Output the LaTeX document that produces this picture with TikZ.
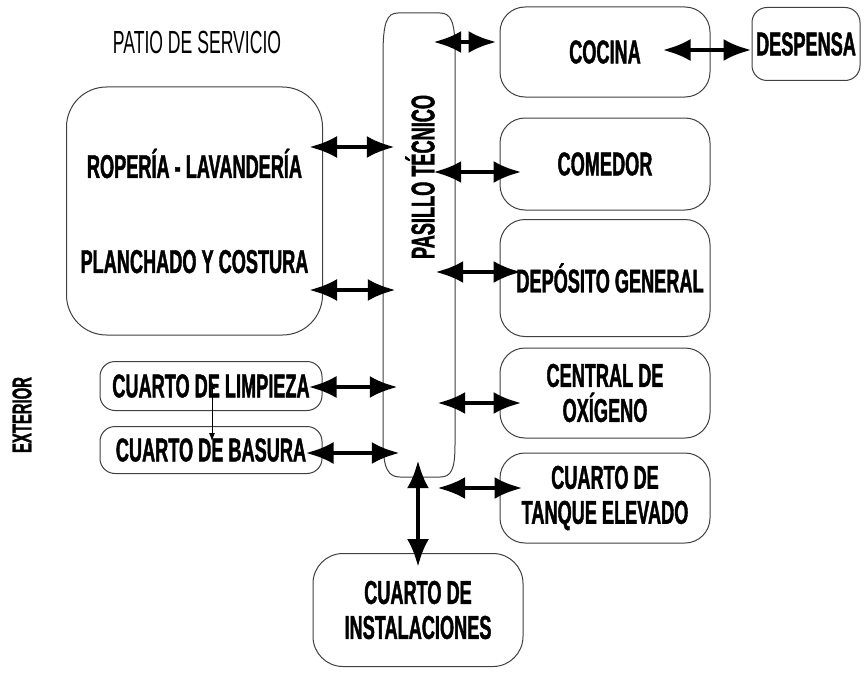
\documentclass[tikz,border=0pt]{standalone}
\usepackage{fontspec}
\setmainfont{Liberation Sans}
\newfontfamily\cond[FakeStretch=0.55, BoldFeatures={FakeBold=1.2}]{Liberation Sans}
\usetikzlibrary{arrows.meta,calc}
\tikzset{
  box/.style={draw=black!75, line width=1pt, rounded corners=#1, inner sep=0pt, align=center,
    font=\cond\bfseries\fontsize{33}{35}\selectfont},
  box/.default=25pt,
  lbl/.style={inner sep=0pt, align=center, font=\cond\bfseries\fontsize{33}{35}\selectfont},
  outline/.style={draw=black!75, line width=1pt},
  biarrow/.style={line width=4.5pt, {Latex[length=28pt,width=22pt]}-{Latex[length=28pt,width=22pt]}},
  thinarrow/.style={line width=0.8pt, {Latex[length=8pt,width=6pt]}-{Latex[length=8pt,width=6pt]}}
}
\begin{document}
\begin{tikzpicture}[x=1pt,y=-1pt]
\path[use as bounding box, fill=white] (0,0) rectangle (865,677);

% pasillo tecnico (elongated rounded outline)
\node[inner sep=0pt, minimum width=72pt, minimum height=464pt] (pasillo) at (419,245) {};
\draw[outline] (383,55) -- (383,440) .. controls (383,470) and (389,477) .. (400,477)
  -- (440,477) .. controls (451,477) and (455,470) .. (455,445) -- (455,50)
  .. controls (455,22) and (451,13) .. (440,13) -- (398,13)
  .. controls (387,13) and (383,22) .. (383,55) -- cycle;
\node[lbl, rotate=90] (pasillotxt) at (420,177) {PASILLO TÉCNICO};

% boxes
\node[box=40pt, minimum width=256pt, minimum height=248pt] (ropa) at (194.5,211) {ROPERÍA - LAVANDERÍA\\[60pt]PLANCHADO Y COSTURA};
\node[box=25pt, minimum width=210pt, minimum height=90pt] (cocina) at (605,52) {COCINA};
\node[box=15pt, minimum width=108pt, minimum height=73pt] (despensa) at (806,44) {DESPENSA};
\node[box=25pt, minimum width=210pt, minimum height=92pt] (comedor) at (605,164) {COMEDOR};
\node[box=25pt, minimum width=210pt, minimum height=117pt] (deposito) at (605,278) {\hspace*{10pt}DEPÓSITO GENERAL};
\node[box=25pt, minimum width=210pt, minimum height=90pt] (central) at (605,393) {CENTRAL DE\\OXÍGENO};
\node[box=25pt, minimum width=210pt, minimum height=90pt] (tanque) at (605,498) {CUARTO DE\\TANQUE ELEVADO};
\node[box=30pt, minimum width=210pt, minimum height=113pt] (instal) at (418,610) {CUARTO DE\\INSTALACIONES};
\node[box=15pt, minimum width=222pt, minimum height=49pt] (limpieza) at (211,386) {CUARTO DE LIMPIEZA};
\node[box=15pt, minimum width=222pt, minimum height=47pt] (basura) at (211,450) {CUARTO DE BASURA};

% free texts
\node[lbl, font=\cond\fontsize{32}{35}\selectfont] (patio) at (197,42) {PATIO DE SERVICIO};
\node[lbl, rotate=90, font=\cond\bfseries\fontsize{27}{30}\selectfont] (exterior) at (22,415) {EXTERIOR};

% connectors
\draw[biarrow] ($(pasillo.east|-0,42)+(-22,0)$) -- ($(cocina.west|-0,42)+(-3,0)$);
\draw[biarrow] ($(cocina.west|-0,50)+(163,0)$) -- (despensa.west|-0,50);
\draw[biarrow] ($(ropa.east|-0,147)+(-14,0)$) -- ($(pasillo.west|-0,147)+(12,0)$);
\draw[biarrow] ($(pasillo.east|-0,172)+(-22,0)$) -- ($(comedor.west|-0,172)+(22,0)$);
\draw[biarrow] ($(ropa.east|-0,290)+(-14,0)$) -- ($(pasillo.west|-0,290)+(13,0)$);
\draw[biarrow] ($(pasillo.east|-0,272)+(-20,0)$) -- ($(deposito.west|-0,272)+(22,0)$);
\draw[biarrow] ($(limpieza.east|-0,387)+(-14,0)$) -- ($(pasillo.west|-0,387)+(15,0)$);
\draw[biarrow] ($(pasillo.east|-0,403)+(-18,0)$) -- ($(central.west|-0,403)+(22,0)$);
\draw[biarrow] ($(basura.east|-0,453)+(-17,0)$) -- ($(pasillo.west|-0,453)+(17,0)$);
\draw[biarrow] ($(pasillo.east|-0,488)+(-18,0)$) -- ($(tanque.west|-0,488)+(23,0)$);
\draw[biarrow] ($(pasillo.south)+(-1,-17)$) -- ($(instal.north)+(0,14)$);
\draw[thinarrow] ($(limpieza.south)+(1,-30)$) -- ($(basura.north)+(1,15)$);
\end{tikzpicture}
\end{document}
